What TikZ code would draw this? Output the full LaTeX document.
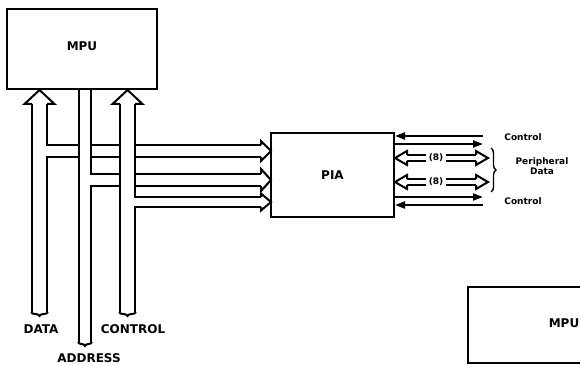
\documentclass[tikz,border=0pt]{standalone}
\usepackage{fontspec}
\setmainfont{DejaVu Sans}
\usetikzlibrary{arrows.meta,decorations.pathreplacing}

\begin{document}
\begin{tikzpicture}[x=1pt,y=-1pt,line width=2pt,
box/.style={draw,fill=white,inner sep=0pt,font=\bfseries\fontsize{12}{14}\selectfont},
big/.style={inner sep=0pt,font=\bfseries\fontsize{12}{14}\selectfont},
small/.style={inner sep=1.5pt,font=\bfseries\fontsize{9}{10}\selectfont,align=center},
bus/.style={double=white,double distance=#1},
hole/.style={draw=white,line width=#1},
head/.style={fill=white,line join=miter,line cap=square},
sig/.style={-{Triangle[length=10pt,width=7pt]}},
bundle/.style={decorate,decoration={brace,amplitude=#1}}]
\useasboundingbox (0,0) rectangle (580,366);
\clip (0,0) rectangle (580,366);

\node[box,minimum width=150pt,minimum height=80pt] (mpu) at (82,49) {\raisebox{5pt}{MPU}};
\node[box,minimum width=123pt,minimum height=84pt] (pia) at (332.5,175) {PIA};
\node[box,minimum width=200pt,minimum height=76pt] (mpub) at (568,325) {\hspace*{-8pt}\raisebox{4pt}{MPU}};
\node[big] (data) at (41,329) {DATA};
\node[big] (addr) at (89,358) {ADDRESS};
\node[big] (ctrl) at (133,329) {CONTROL};

\foreach \n/\x/\t/\b in {d/39.5/104/312,a/85/90/342,c/127.5/104/312}{
  \coordinate (\n-top) at (\x,\t);
  \coordinate (\n-bot) at (\x,\b);
}
\foreach \n/\x/\y in {d/39.5/151,a/85/180,c/127.5/202}{
  \coordinate (\n-from) at (\x,\y);
  \coordinate (\n-to) at (261,\y);
}

\draw[bus=10pt] (d-from) -- (d-to);
\draw[bus=10pt] (a-from) -- (a-to);
\draw[bus=8pt] (c-from) -- (c-to);
\draw[bus=13pt] (d-top) -- (d-bot);
\draw[bus=10pt] (a-top) -- (a-bot);
\draw[bus=13pt] (c-top) -- (c-bot);
\draw[hole=10pt] (d-from) -- ++(9.5,0);
\draw[hole=10pt] (a-from) -- ++(8,0);
\draw[hole=8pt] (c-from) -- ++(9.5,0);

\filldraw[head] (32,104) -- (24.5,104) -- (39.5,90) -- (54.5,104) -- (47,104);
\filldraw[head] (120,104) -- (112.5,104) -- (127.5,90) -- (142.5,104) -- (135,104);
\filldraw[head] (261,145) -- (261,141) -- (271,151) -- (261,161) -- (261,157);
\filldraw[head] (261,174) -- (261,169) -- (271,180) -- (261,191) -- (261,186);
\filldraw[head] (261,197) -- (261,193.5) -- (271,202) -- (261,210.5) -- (261,207);

\draw[bundle=4pt] (48,312) -- (31,312);
\draw[bundle=4pt] (92,342) -- (78,342);
\draw[bundle=4pt] (136,312) -- (119,312);

\foreach \y/\n in {158/1,182/2}{
  \node[small] (eight\n) at (436,\y) {(8)};
  \draw[bus=4pt] (407,\y) -- (eight\n.west);
  \draw[bus=4pt] (eight\n.east) -- (476,\y);
  \filldraw[head] (407,\y-3) -- (407,\y-7) -- (395,\y) -- (407,\y+7) -- (407,\y+3);
  \filldraw[head] (476,\y-3) -- (476,\y-7) -- (488,\y) -- (476,\y+7) -- (476,\y+3);
}

\coordinate (ca1) at (483,136);
\coordinate (ca2) at (483,144);
\coordinate (cb2) at (483,197);
\coordinate (cb1) at (483,205);
\draw[sig] (ca1) -- (ca1 -| pia.east);
\draw[sig] (ca2 -| pia.east) -- (ca2);
\draw[sig] (cb2 -| pia.east) -- (cb2);
\draw[sig] (cb1) -- (cb1 -| pia.east);

\node[small] (ctop) at (523,137) {Control};
\node[small] (pdata) at (542,166) {Peripheral\\Data};
\node[small] (cbot) at (523,201) {Control};
\draw[bundle=5pt,line width=1.4pt] (491,148) -- (491,192);
\end{tikzpicture}
\end{document}
